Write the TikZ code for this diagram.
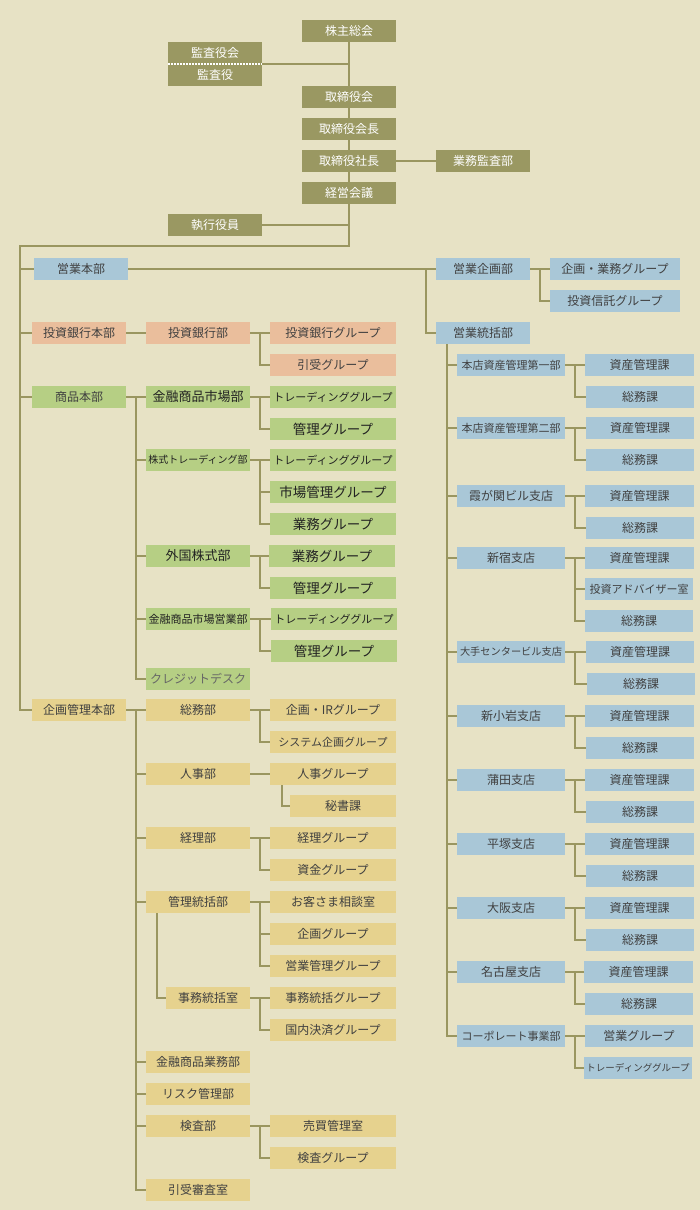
\documentclass[tikz,border=0pt]{standalone}
\usepackage{fontspec}
\newfontfamily\jp{Noto Sans CJK JP}
\usetikzlibrary{calc}
\definecolor{bgc}{HTML}{E7E2C5}
\definecolor{olc}{HTML}{9A9862}
\definecolor{lnc}{HTML}{9A9660}
\definecolor{blc}{HTML}{A9C7D7}
\definecolor{sac}{HTML}{EABE9C}
\definecolor{grc}{HTML}{B6CF84}
\definecolor{yec}{HTML}{E6D28E}
\definecolor{txt}{HTML}{404040}
\definecolor{dtxt}{HTML}{222222}
\newcommand\mykids[3]{\draw[ln] (#1.east) -- (#2.west); \draw[ln] (#1.east) ++(10,0) |- (#3.west);}
\newcommand\mytrunk[1]{\draw[ln] (#1.west) -- ++(-10,0);}
\begin{document}
\begin{tikzpicture}[x=1pt,y=-1pt,
  box/.style={rectangle, inner sep=0pt, outer sep=0pt, minimum height=22pt, anchor=north west, text=txt, font=\jp\fontsize{12}{14}\selectfont},
  ol/.style={box, fill=olc, text=white, minimum width=94pt},
  bl/.style={box, fill=blc},
  sa/.style={box, fill=sac},
  gr/.style={box, fill=grc},
  ye/.style={box, fill=yec},
  ln/.style={draw=lnc, line width=2pt},
  fa/.style={font=\jp\fontsize{11}{13}\selectfont},
  fb/.style={font=\jp\fontsize{10}{12}\selectfont},
  fc/.style={font=\jp\fontsize{9.5}{11}\selectfont},
  big/.style={font=\jp\fontsize{13.5}{15}\selectfont, text=dtxt},
  mid/.style={font=\jp\fontsize{13}{15}\selectfont, text=dtxt},
]
\fill[bgc] (0,0) rectangle (700,1210);
\useasboundingbox (0,0) rectangle (700,1210);

% ---- top ----
\node[ol] (kabu) at (302,20) {株主総会};
\node[ol] (kk) at (168,42) {監査役会};
\node[ol] (ky) at (168,64) {監査役};
\node[ol] (torik) at (302,86) {取締役会};
\node[ol] (torikc) at (302,118) {取締役会長};
\node[ol] (shacho) at (302,150) {取締役社長};
\node[ol] (gkansa) at (436,150) {業務監査部};
\node[ol] (keiei) at (302,182) {経営会議};
\node[ol] (shikko) at (168,214) {執行役員};
\draw[white, line width=1.5pt, dash pattern=on 1.5pt off 1.5pt] (kk.south west) -- (kk.south east);
\draw[ln] (kabu.south) -- (torik.north);
\draw[ln] (kk.south east) -- (kk.south east -| kabu.south);
\draw[ln] (torik.south) -- (torikc.north);
\draw[ln] (torikc.south) -- (shacho.north);
\draw[ln] (shacho.south) -- (keiei.north);
\draw[ln] (shacho.east) -- (gkansa.west);
\draw[ln] (shikko.east) -- (shikko.east -| keiei.south);

% ---- left column ----
\node[bl, minimum width=94pt] (eihb) at (34,258) {営業本部};
\node[sa, minimum width=94pt] (tghb) at (32,322) {投資銀行本部};
\node[gr, minimum width=94pt] (shhb) at (32,386) {商品本部};
\node[ye, minimum width=94pt] (kkhb) at (32,699) {企画管理本部};
\coordinate (t1) at (349,246);
\coordinate (t2) at (20,246);
\draw[ln] (keiei.south) -- (t1) -- (t2) |- (kkhb.west);
\draw[ln] (eihb.west -| t2) -- (eihb.west);
\draw[ln] (tghb.west -| t2) -- (tghb.west);
\draw[ln] (shhb.west -| t2) -- (shhb.west);

% ---- investment banking ----
\node[sa, minimum width=104pt] (tgb) at (146,322) {投資銀行部};
\node[sa, minimum width=126pt] (tgg) at (270,322) {投資銀行グループ};
\node[sa, minimum width=126pt] (hkg) at (270,354) {引受グループ};
\draw[ln] (tghb.east) -- (tgb.west);
\mykids{tgb}{tgg}{hkg}

% ---- products ----
\node[gr, minimum width=104pt, mid] (kinshi) at (146,386) {金融商品市場部};
\node[gr, minimum width=126pt, fa, text=dtxt] (tr1) at (270,386) {トレーディンググループ};
\node[gr, minimum width=126pt, big] (kr1) at (270,418) {管理グループ};
\node[gr, minimum width=104pt, fb, text=dtxt] (kabut) at (146,449) {株式トレーディング部};
\node[gr, minimum width=126pt, fa, text=dtxt] (tr2) at (270,449) {トレーディンググループ};
\node[gr, minimum width=126pt, big] (sjk) at (270,481) {市場管理グループ};
\node[gr, minimum width=126pt, big] (gmg1) at (270,513) {業務グループ};
\node[gr, minimum width=104pt, mid] (gaik) at (146,545) {外国株式部};
\node[gr, minimum width=126pt, big] (gmg2) at (269,545) {業務グループ};
\node[gr, minimum width=126pt, big] (kr2) at (270,577) {管理グループ};
\node[gr, minimum width=104pt, fa, text=dtxt] (kse) at (146,608) {金融商品市場営業部};
\node[gr, minimum width=126pt, fa, text=dtxt] (tr3) at (271,608) {トレーディンググループ};
\node[gr, minimum width=126pt, big] (kr3) at (271,640) {管理グループ};
\node[gr, minimum width=104pt, text=black!60] (crd) at (146,668) {クレジットデスク};
\draw[ln] (shhb.east) -- (kinshi.west);
\draw[ln] (shhb.east) ++(10,0) |- (crd.west);
\mytrunk{kabut}\mytrunk{gaik}\mytrunk{kse}
\mykids{kinshi}{tr1}{kr1}
\mykids{kabut}{tr2}{gmg1}
\draw[ln] (kabut.east) ++(10,0) |- (sjk.west);
\mykids{gaik}{gmg2}{kr2}
\mykids{kse}{tr3}{kr3}

% ---- planning / management ----
\node[ye, minimum width=104pt] (somu) at (146,699) {総務部};
\node[ye, minimum width=126pt] (kir) at (270,699) {企画・IRグループ};
\node[ye, minimum width=126pt, fa] (sys) at (270,731) {システム企画グループ};
\node[ye, minimum width=104pt] (jinji) at (146,763) {人事部};
\node[ye, minimum width=126pt] (jg) at (270,763) {人事グループ};
\node[ye, minimum width=106pt] (hisho) at (290,795) {秘書課};
\node[ye, minimum width=104pt] (keiri) at (146,827) {経理部};
\node[ye, minimum width=126pt] (kg) at (270,827) {経理グループ};
\node[ye, minimum width=126pt] (sg) at (270,859) {資金グループ};
\node[ye, minimum width=104pt] (kantou) at (146,891) {管理統括部};
\node[ye, minimum width=126pt] (okyaku) at (270,891) {お客さま相談室};
\node[ye, minimum width=126pt] (kig) at (270,923) {企画グループ};
\node[ye, minimum width=126pt] (ekg) at (270,955) {営業管理グループ};
\node[ye, minimum width=84pt] (jimu) at (166,987) {事務統括室};
\node[ye, minimum width=126pt] (jmg) at (270,987) {事務統括グループ};
\node[ye, minimum width=126pt] (kng) at (270,1019) {国内決済グループ};
\node[ye, minimum width=104pt] (kgs) at (146,1051) {金融商品業務部};
\node[ye, minimum width=104pt] (risk) at (146,1083) {リスク管理部};
\node[ye, minimum width=104pt] (kensa) at (146,1115) {検査部};
\node[ye, minimum width=126pt] (bbk) at (270,1115) {売買管理室};
\node[ye, minimum width=126pt] (keng) at (270,1147) {検査グループ};
\node[ye, minimum width=104pt] (hkss) at (146,1179) {引受審査室};
\draw[ln] (kkhb.east) -- (somu.west);
\draw[ln] (kkhb.east) ++(10,0) |- (hkss.west);
\mytrunk{jinji}\mytrunk{keiri}\mytrunk{kantou}\mytrunk{kgs}\mytrunk{risk}\mytrunk{kensa}
\mykids{somu}{kir}{sys}
\draw[ln] (jinji.east) -- (jg.west);
\draw[ln] (jg.south west) ++(12,0) |- (hisho.west);
\mykids{keiri}{kg}{sg}
\mykids{kantou}{okyaku}{ekg}
\draw[ln] (kantou.east) ++(10,0) |- (kig.west);
\draw[ln] (kantou.south west) ++(11,0) |- (jimu.west);
\mykids{jimu}{jmg}{kng}
\mykids{kensa}{bbk}{keng}

% ---- sales ----
\node[bl, minimum width=94pt] (ekb) at (436,258) {営業企画部};
\node[bl, minimum width=130pt] (kgg) at (550,258) {企画・業務グループ};
\node[bl, minimum width=130pt] (tsg) at (550,290) {投資信託グループ};
\node[bl, minimum width=94pt] (etb) at (436,322) {営業統括部};
\draw[ln] (eihb.east) -- (ekb.west);
\draw[ln] (ekb.west) ++(-10,0) |- (etb.west);
\mykids{ekb}{kgg}{tsg}

\node[bl, minimum width=108pt, fa] (hk1) at (457,354) {本店資産管理第一部};
\node[bl, minimum width=109pt] (hk1a) at (585,354) {資産管理課};
\node[bl, minimum width=108pt] (hk1b) at (586,386) {総務課};
\node[bl, minimum width=108pt, fa] (hk2) at (457,417) {本店資産管理第二部};
\node[bl, minimum width=108pt] (hk2a) at (586,417) {資産管理課};
\node[bl, minimum width=108pt] (hk2b) at (586,449) {総務課};
\node[bl, minimum width=108pt] (kasu) at (457,485) {霞が関ビル支店};
\node[bl, minimum width=109pt] (kasua) at (585,485) {資産管理課};
\node[bl, minimum width=108pt] (kasub) at (586,517) {総務課};
\node[bl, minimum width=108pt] (shin) at (457,547) {新宿支店};
\node[bl, minimum width=109pt] (shina) at (585,547) {資産管理課};
\node[bl, minimum width=108pt, fa] (shinb) at (585,578) {投資アドバイザー室};
\node[bl, minimum width=108pt] (shinc) at (585,610) {総務課};
\node[bl, minimum width=108pt, font=\jp\fontsize{10.2}{12}\selectfont] (ote) at (457,641) {大手センタービル支店};
\node[bl, minimum width=108pt] (otea) at (586,641) {資産管理課};
\node[bl, minimum width=108pt] (oteb) at (587,673) {総務課};
\node[bl, minimum width=108pt] (koiwa) at (457,705) {新小岩支店};
\node[bl, minimum width=109pt] (koiwaa) at (585,705) {資産管理課};
\node[bl, minimum width=108pt] (koiwab) at (586,737) {総務課};
\node[bl, minimum width=108pt] (kama) at (457,769) {蒲田支店};
\node[bl, minimum width=109pt] (kamaa) at (585,769) {資産管理課};
\node[bl, minimum width=108pt] (kamab) at (586,801) {総務課};
\node[bl, minimum width=108pt] (hira) at (457,833) {平塚支店};
\node[bl, minimum width=109pt] (hiraa) at (585,833) {資産管理課};
\node[bl, minimum width=108pt] (hirab) at (586,865) {総務課};
\node[bl, minimum width=108pt] (osaka) at (457,897) {大阪支店};
\node[bl, minimum width=109pt] (osakaa) at (585,897) {資産管理課};
\node[bl, minimum width=108pt] (osakab) at (586,929) {総務課};
\node[bl, minimum width=108pt] (nago) at (457,961) {名古屋支店};
\node[bl, minimum width=109pt] (nagoa) at (584,961) {資産管理課};
\node[bl, minimum width=108pt] (nagob) at (585,993) {総務課};
\node[bl, minimum width=108pt, fa] (corp) at (457,1025) {コーポレート事業部};
\node[bl, minimum width=108pt] (corpa) at (585,1025) {営業グループ};
\node[bl, minimum width=108pt, fc] (corpb) at (584,1057) {トレーディンググループ};

\draw[ln] (etb.south west) ++(11,0) |- (corp.west);
\mytrunk{hk1}\mytrunk{hk2}\mytrunk{kasu}\mytrunk{shin}\mytrunk{ote}\mytrunk{koiwa}
\mytrunk{kama}\mytrunk{hira}\mytrunk{osaka}\mytrunk{nago}
\mykids{hk1}{hk1a}{hk1b}
\mykids{hk2}{hk2a}{hk2b}
\mykids{kasu}{kasua}{kasub}
\mykids{shin}{shina}{shinc}
\draw[ln] (shin.east) ++(10,0) |- (shinb.west);
\mykids{ote}{otea}{oteb}
\mykids{koiwa}{koiwaa}{koiwab}
\mykids{kama}{kamaa}{kamab}
\mykids{hira}{hiraa}{hirab}
\mykids{osaka}{osakaa}{osakab}
\mykids{nago}{nagoa}{nagob}
\mykids{corp}{corpa}{corpb}
\end{tikzpicture}
\end{document}
